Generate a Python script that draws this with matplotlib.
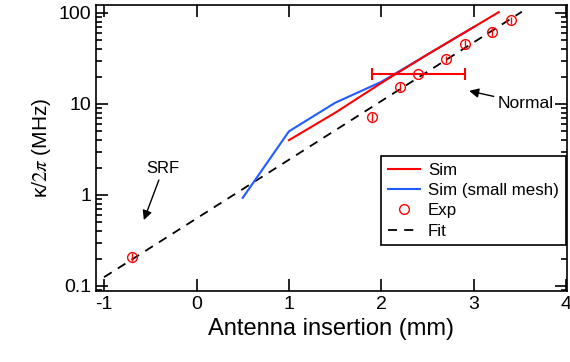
import numpy as np
import matplotlib
matplotlib.use("Agg")
import matplotlib.pyplot as plt
from matplotlib.ticker import LogLocator, NullFormatter, FixedLocator

plt.rcParams['font.family'] = ['Liberation Sans', 'DejaVu Sans']
plt.rcParams['axes.unicode_minus'] = False
plt.rcParams['mathtext.fontset'] = 'stix'

# simulation (red) and small-mesh simulation (blue)
sim_x = [1.0, 1.5, 2.0, 2.5, 3.0, 3.27]
sim_y = [4.0, 8.0, 17.0, 35.0, 70.0, 102.0]
small_x = [0.5, 1.0, 1.5, 2.0, 2.5, 3.0]
small_y = [0.93, 5.0, 10.3, 17.5, 35.0, 70.0]

# measured points
exp_x = [-0.7, 1.9, 2.2, 2.4, 2.7, 2.9, 3.2, 3.4]
exp_y = [0.21, 7.2, 15.4, 21.4, 31.0, 45.5, 62.0, 83.0]
exp_yerr = [0.02, 0.7, 1.5, 0.0, 3.0, 4.5, 6.0, 8.0]
exp_xerr = [0, 0, 0, 0.5, 0, 0, 0, 0]

# fit line endpoints
fit_x = [-1.0, 3.52]
fit_y = [0.125, 103.0]

fig = plt.figure(figsize=(5.7, 3.62), dpi=100)
ax = fig.add_axes([0.168, 0.196, 0.827, 0.79])

ax.plot(fit_x, fit_y, color='k', lw=1.3, linestyle=(0, (5, 4)), label='Fit', zorder=2)
ax.plot(small_x, small_y, color='#1f5cff', lw=1.5, label='Sim (small mesh)', zorder=3)
ax.plot(sim_x, sim_y, color='#ff0000', lw=1.5, label='Sim', zorder=4)

# error bars (vertical small ones, horizontal one with caps)
ax.errorbar(exp_x, exp_y, yerr=exp_yerr, fmt='none', ecolor='red', elinewidth=1, zorder=5)
xe_x = [x for x, e in zip(exp_x, exp_xerr) if e > 0]
xe_y = [y for y, e in zip(exp_y, exp_xerr) if e > 0]
xe_e = [e for e in exp_xerr if e > 0]
ax.errorbar(xe_x, xe_y, xerr=xe_e, fmt='none', ecolor='red', elinewidth=1.5,
            capsize=4, capthick=1.5, zorder=5)
ax.plot(exp_x, exp_y, 'o', mfc='none', mec='red', ms=7, mew=1, label='Exp', zorder=6)

ax.set_yscale('log')
ax.set_xlim(-1.09, 4.01)
ax.set_ylim(0.088, 122)
ax.xaxis.set_major_locator(FixedLocator([-1, 0, 1, 2, 3, 4]))
ax.yaxis.set_minor_locator(LogLocator(base=10, subs=np.arange(2, 10), numticks=10))
ax.yaxis.set_minor_formatter(NullFormatter())
ax.set_yticks([0.1, 1, 10, 100])
ax.set_yticklabels(['0.1', '1', '10', '100'])

ax.tick_params(which='both', direction='in', top=True, right=True, labelsize=14, width=1.2)
ax.tick_params(which='major', length=8.5)
ax.tick_params(which='minor', length=4.5)
for s in ax.spines.values():
    s.set_linewidth(1.2)

ax.set_xlabel('Antenna insertion (mm)', fontsize=17)
ax.set_ylabel(r'κ$/2\pi$ (MHz)', fontsize=15)

ax.annotate('SRF', xy=(-0.57, 0.53), xytext=(-0.36, 1.62), ha='center', va='bottom',
            fontsize=12, arrowprops=dict(arrowstyle='-|>', color='k', lw=1, mutation_scale=14,
                                         shrinkA=1, shrinkB=0))
ax.annotate('Normal', xy=(2.95, 13.9), xytext=(3.26, 10.1), ha='left', va='center',
            fontsize=12.5, arrowprops=dict(arrowstyle='-|>', color='k', lw=1, mutation_scale=14,
                                           shrinkA=1, shrinkB=0))

handles, labels = ax.get_legend_handles_labels()
order = [labels.index(l) for l in ['Sim', 'Sim (small mesh)', 'Exp', 'Fit']]
leg = ax.legend([handles[i] for i in order], [labels[i] for i in order],
                loc='lower right', bbox_to_anchor=(0.997, 0.16), fontsize=12.2,
                fancybox=False, edgecolor='k', framealpha=1, handlelength=1.9,
                labelspacing=0.3, borderpad=0.4, handletextpad=0.45, borderaxespad=0)
leg.get_frame().set_linewidth(1.2)

fig.savefig('out.png', dpi=100)
